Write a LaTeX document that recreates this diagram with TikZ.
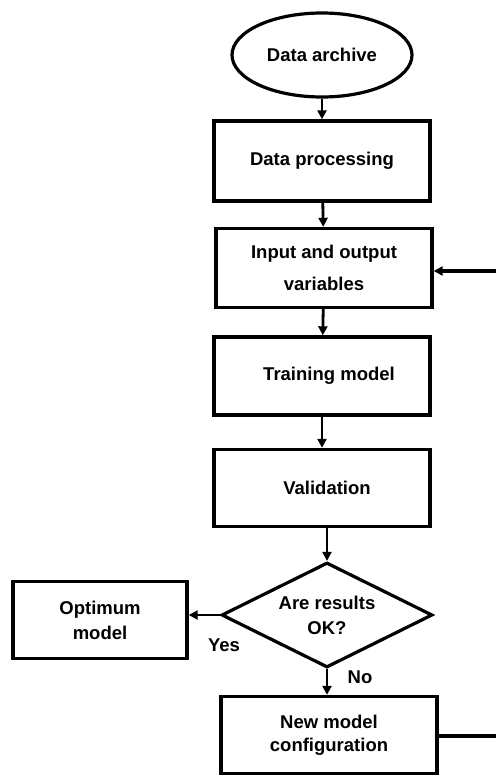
\documentclass[tikz,border=0pt]{standalone}
\usepackage{fontspec}
\setmainfont{Liberation Sans}
\usetikzlibrary{shapes.geometric,arrows.meta}
\begin{document}
\begin{tikzpicture}[x=1pt,y=-1pt,
  every node/.style={font=\bfseries\fontsize{18.5}{25}\selectfont,align=center,inner sep=0pt},
  box/.style={draw,line width=3.4pt,minimum width=#1},
  box/.default=216pt,
  flow/.style={line width=2.8pt,-{Triangle[length=9pt,width=9pt]}},
  plain/.style={line width=3.2pt}]
\useasboundingbox (0,0) rectangle (496,776);

% main column
\node[draw,ellipse,line width=3.2pt,minimum width=180pt,minimum height=84pt] (arch) at (322,55) {Data archive};
\node[box,minimum height=80pt] (proc) at (322,161) {Data processing};
\node[box,minimum height=79pt,font=\bfseries\fontsize{18.5}{32}\selectfont] (io) at (324,268) {Input and output\\variables};
\node[box,minimum height=78pt] (train) at (322,376) {\hspace{14pt}Training model};
\node[box,minimum height=77pt] (valid) at (322,488) {\hspace{10pt}Validation};
\node[draw,diamond,line width=3.2pt,minimum width=211pt,minimum height=105pt,aspect=2] (ok) at (327,615) {Are results\\OK?};
\node[box=216pt,minimum height=77pt,font=\bfseries\fontsize{18.5}{23}\selectfont] (newcfg) at (329,735) {New model\\configuration};
\node[box=174pt,minimum height=77pt] (opt) at (100,620) {Optimum\\model};

% decision labels
\node (yes) at (224,645) {Yes};
\node (no) at (360,677) {No};

% flow between steps
\draw[flow] (arch) -- (proc);
\draw[flow] (proc) -- (io);
\draw[flow] (io) -- (train);
\draw[flow] (train) -- (valid);
\draw[flow] (valid.south -| ok.north) -- (ok.north);
\draw[flow] (ok.west) -- (opt.east |- ok.west);
\draw[flow] (ok.south) -- (ok.south |- newcfg.north);

% feedback loop back to the variables step
\coordinate (fbout) at (496,736);
\coordinate (fbin) at (496,271);
\draw[plain] (newcfg.east |- fbout) -- (fbout);
\draw[flow,line width=3.2pt] (fbin) -- (fbin -| io.east);
\end{tikzpicture}
\end{document}
